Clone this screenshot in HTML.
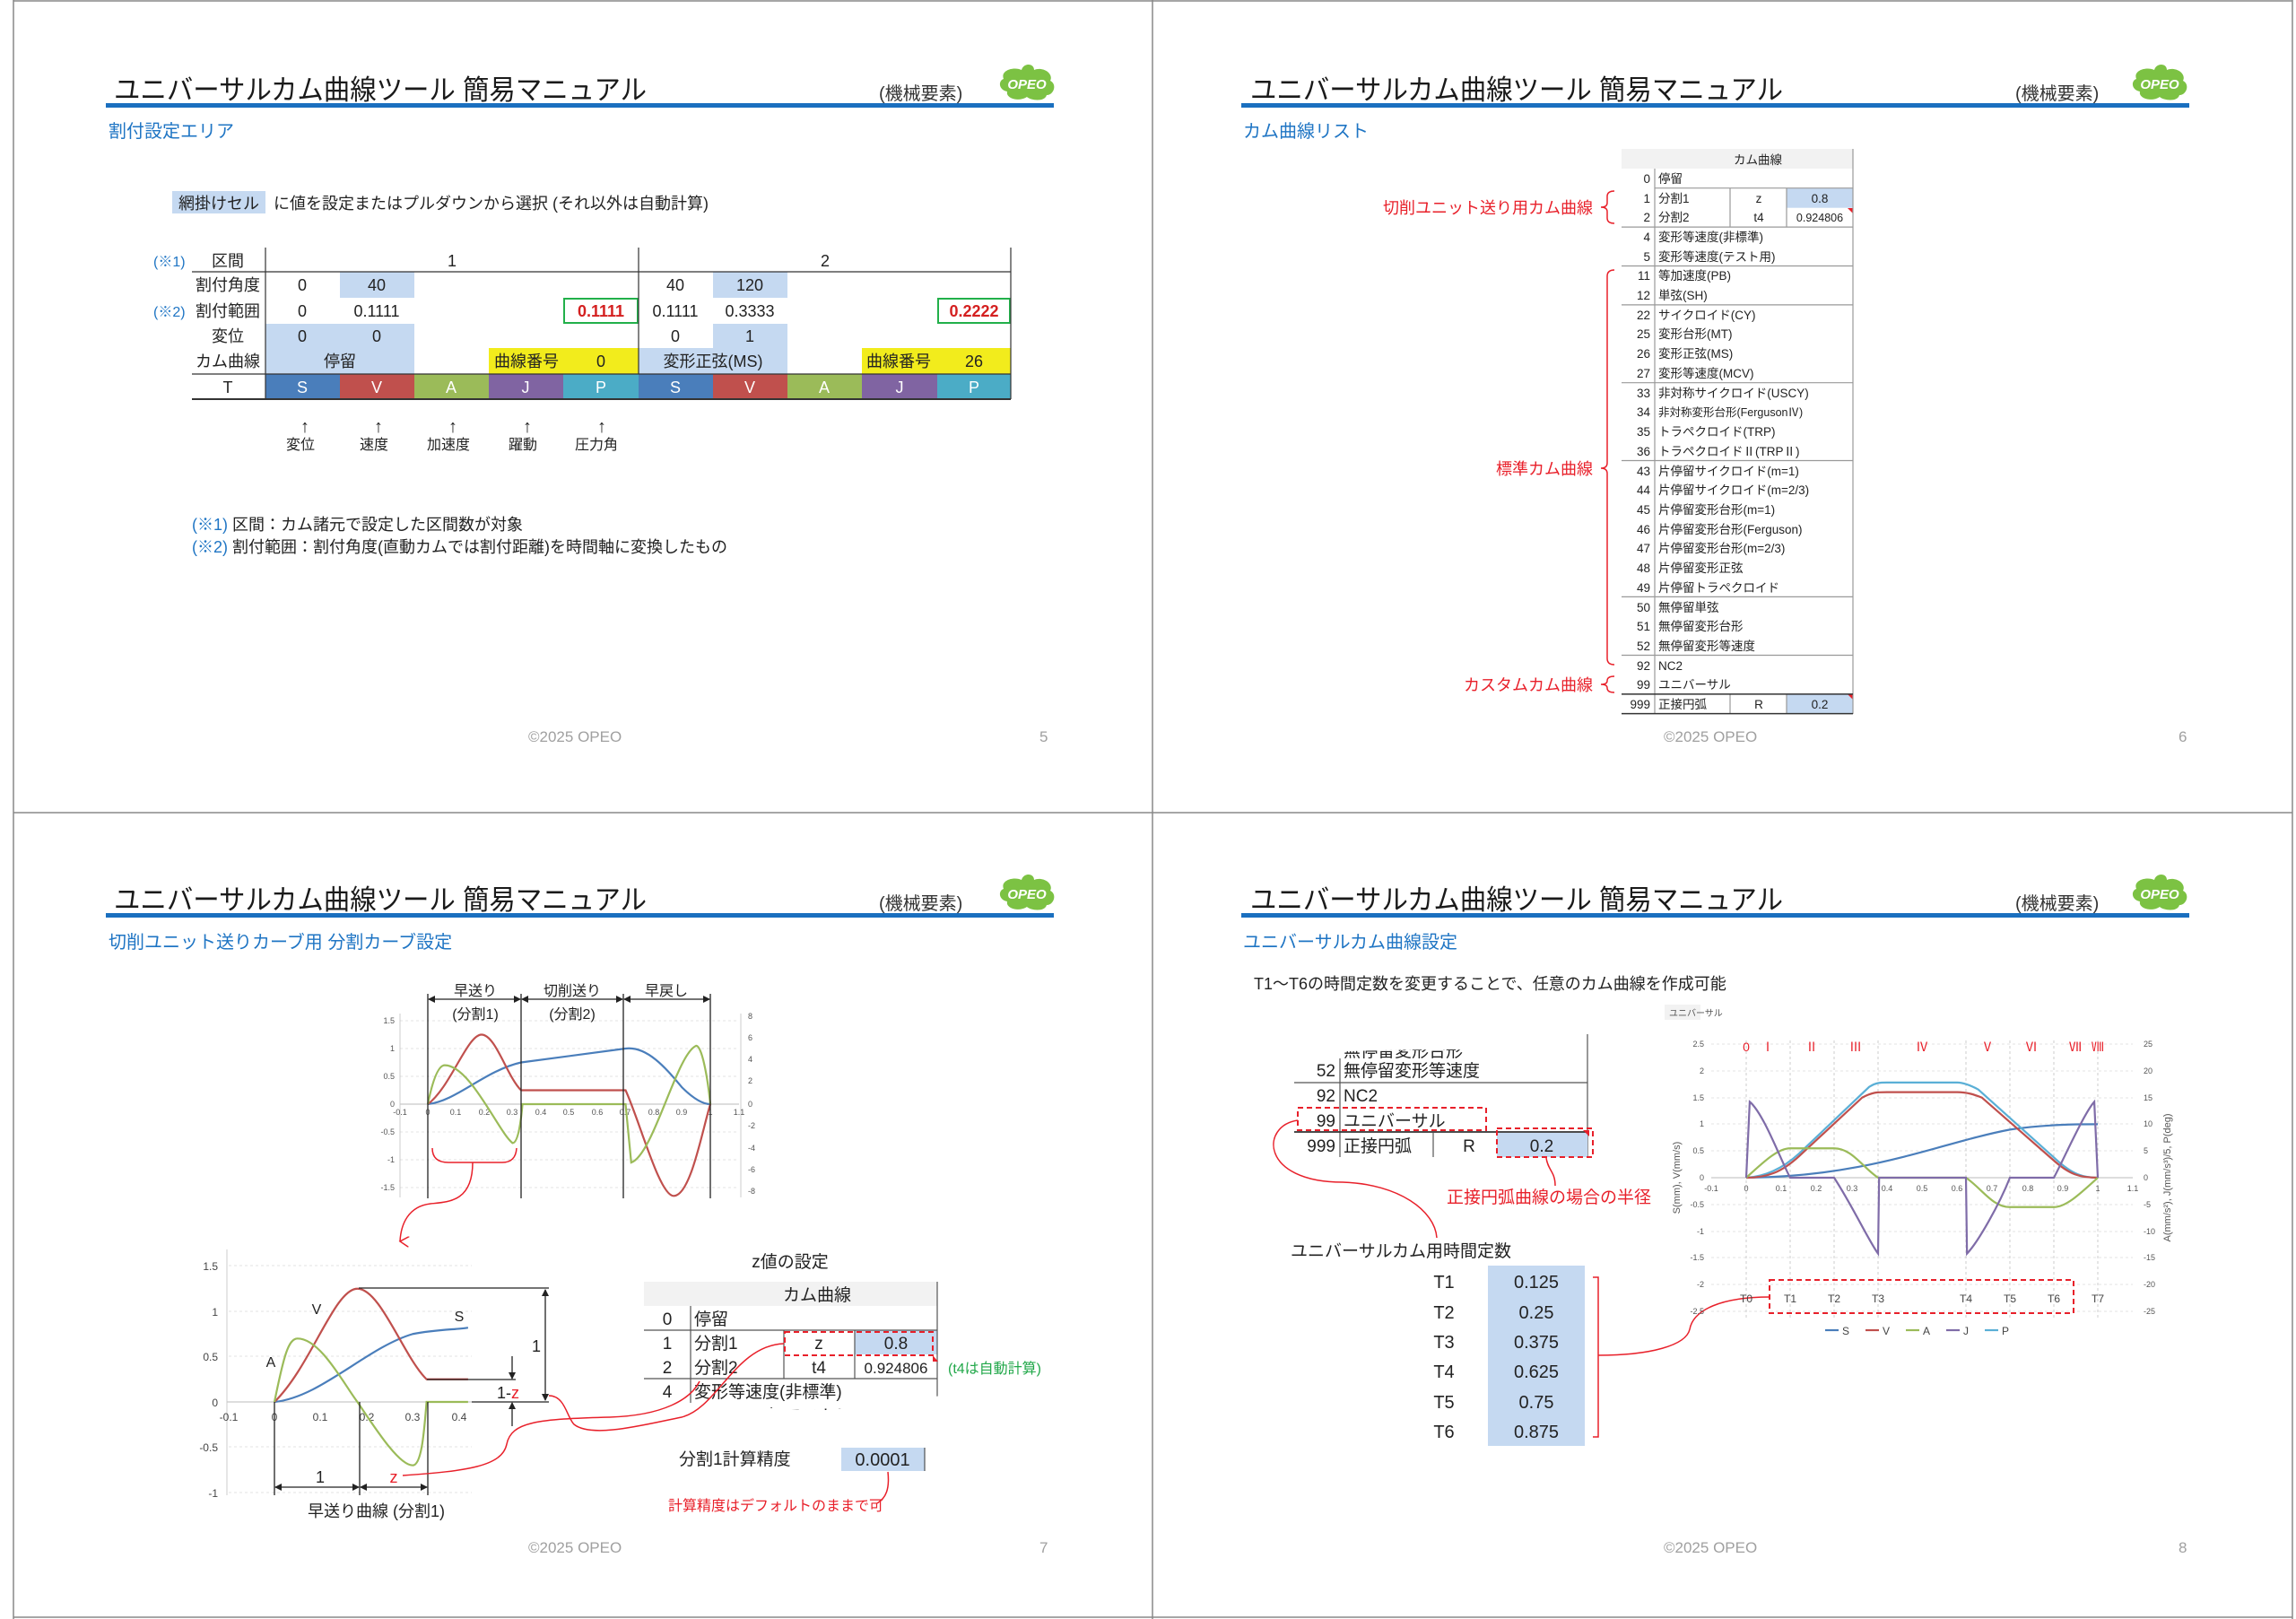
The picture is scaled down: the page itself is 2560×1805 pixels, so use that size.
<!DOCTYPE html>
<html><head><meta charset="utf-8"><style>
html,body{margin:0;padding:0;background:#fff}
svg{display:block}
text{font-family:"Liberation Sans","Noto Sans CJK JP",sans-serif}
.t{font-size:31px;fill:#1a1a1a}
.k{font-size:20px;fill:#333}
.sub{font-size:20px;fill:#1f75c4}
.ft{font-size:17px;fill:#a0a0a0}
.s18{font-size:18px;fill:#222}
.s16{font-size:16px;fill:#222}
.s14{font-size:14px;fill:#222}
.s13{font-size:13.5px;fill:#222}
.s19{font-size:19px;fill:#222}
.s20{font-size:20px;fill:#222}
.ax{font-size:9px;fill:#555}
.ax2{font-size:12px;fill:#444}
.red{fill:#e8202a}
.blu{fill:#1f75c4}
.m{text-anchor:middle}
.e{text-anchor:end}
.cv{fill:none;stroke-width:2.2;vector-effect:non-scaling-stroke}
.ln{stroke:#222;stroke-width:1.3;fill:none}
.gl{stroke:#e3e3e3;stroke-width:1;stroke-dasharray:3 3}
.rd{stroke:#e8202a;stroke-width:1.5;fill:none}
.rdd{stroke:#e8202a;stroke-width:2;fill:none;stroke-dasharray:6 4}
</style></head><body>
<svg width="2560" height="1805" viewBox="0 0 2560 1805" xmlns="http://www.w3.org/2000/svg">
<defs>
<marker id="ah" markerWidth="8" markerHeight="8" refX="7" refY="4" orient="auto-start-reverse" markerUnits="userSpaceOnUse"><path d="M0,0 L8,4 L0,8 z" fill="#222"/></marker>
<marker id="ar" markerWidth="12" markerHeight="12" refX="6" refY="10" orient="auto" markerUnits="userSpaceOnUse"><path d="M0,0 L6,10 L12,0" fill="none" stroke="#e8202a" stroke-width="1.5"/></marker>
<g id="logo"><path d="M-26,-6 C-30,-16 -14,-20 -6,-16 C-4,-24 8,-24 8,-16 C18,-20 30,-12 26,-4 C34,0 30,12 22,12 C20,20 4,18 0,14 C-8,20 -24,16 -22,8 C-32,6 -32,-4 -26,-6 z" fill="#7cc243"/><text x="0" y="5" class="m" style="font-size:15px;font-weight:bold;font-style:italic;fill:#fff">OPEO</text></g>
</defs>
<rect x="0" y="0" width="2560" height="1805" fill="#fff"/>
<g stroke="#888" stroke-width="1.5" fill="none">
<line x1="15" y1="0" x2="15" y2="1805"/><line x1="1285" y1="0" x2="1285" y2="1805"/>
<line x1="15" y1="906" x2="2556" y2="906"/><line x1="2556" y1="0" x2="2556" y2="1805"/>
<line x1="15" y1="1803" x2="2556" y2="1803"/><line x1="15" y1="1" x2="2556" y2="1"/>
</g>

<!-- ================= headers ================= -->
<g>
<text x="127" y="111" class="t" textLength="594" lengthAdjust="spacingAndGlyphs">ユニバーサルカム曲線ツール 簡易マニュアル</text>
<text x="980" y="111" class="k">(機械要素)</text>
<rect x="118" y="115" width="1057" height="5" fill="#1a6fbf"/>
<use href="#logo" x="1145" y="94"/>
<text x="589" y="827" class="ft">©2025 OPEO</text><text x="1159" y="827" class="ft">5</text>

<text x="1394" y="111" class="t" textLength="594" lengthAdjust="spacingAndGlyphs">ユニバーサルカム曲線ツール 簡易マニュアル</text>
<text x="2247" y="111" class="k">(機械要素)</text>
<rect x="1384" y="115" width="1057" height="5" fill="#1a6fbf"/>
<use href="#logo" x="2408" y="94"/>
<text x="1855" y="827" class="ft">©2025 OPEO</text><text x="2429" y="827" class="ft">6</text>

<text x="127" y="1014" class="t" textLength="594" lengthAdjust="spacingAndGlyphs">ユニバーサルカム曲線ツール 簡易マニュアル</text>
<text x="980" y="1014" class="k">(機械要素)</text>
<rect x="118" y="1018" width="1057" height="5" fill="#1a6fbf"/>
<use href="#logo" x="1145" y="997"/>
<text x="589" y="1731" class="ft">©2025 OPEO</text><text x="1159" y="1731" class="ft">7</text>

<text x="1394" y="1014" class="t" textLength="594" lengthAdjust="spacingAndGlyphs">ユニバーサルカム曲線ツール 簡易マニュアル</text>
<text x="2247" y="1014" class="k">(機械要素)</text>
<rect x="1384" y="1018" width="1057" height="5" fill="#1a6fbf"/>
<use href="#logo" x="2408" y="997"/>
<text x="1855" y="1731" class="ft">©2025 OPEO</text><text x="2429" y="1731" class="ft">8</text>
</g>

<!-- ================= slide 1 ================= -->
<g>
<text x="121" y="153" class="sub">割付設定エリア</text>
<rect x="192" y="213" width="104" height="25" fill="#c5d9f1"/>
<text x="199" y="233" class="s18">網掛けセル</text>
<text x="305" y="233" class="s18">に値を設定またはプルダウンから選択 (それ以外は自動計算)</text>
<rect x="379" y="303" width="83" height="29" fill="#c5d9f1"/>
<rect x="296" y="361" width="166" height="56" fill="#c5d9f1"/>
<rect x="795" y="303" width="83" height="29" fill="#c5d9f1"/>
<rect x="795" y="361" width="83" height="27" fill="#c5d9f1"/>
<rect x="712" y="388" width="166" height="29" fill="#c5d9f1"/>
<rect x="545" y="388" width="167" height="29" fill="#f2ec1c"/>
<rect x="961" y="388" width="166" height="29" fill="#f2ec1c"/>
<g>
<rect x="296" y="417" width="83" height="28" fill="#4a7ebb"/><rect x="379" y="417" width="83" height="28" fill="#c0504d"/>
<rect x="462" y="417" width="83" height="28" fill="#9bbb59"/><rect x="545" y="417" width="83" height="28" fill="#8064a2"/>
<rect x="628" y="417" width="84" height="28" fill="#4bacc6"/>
<rect x="712" y="417" width="83" height="28" fill="#4a7ebb"/><rect x="795" y="417" width="83" height="28" fill="#c0504d"/>
<rect x="878" y="417" width="83" height="28" fill="#9bbb59"/><rect x="961" y="417" width="84" height="28" fill="#8064a2"/>
<rect x="1045" y="417" width="82" height="28" fill="#4bacc6"/>
</g>
<rect x="629" y="333" width="82" height="27" fill="none" stroke="#22b04a" stroke-width="2"/>
<rect x="1046" y="333" width="80" height="27" fill="none" stroke="#22b04a" stroke-width="2"/>
<g stroke="#333" stroke-width="1.2">
<line x1="214" y1="303" x2="1127" y2="303"/><line x1="214" y1="417" x2="1127" y2="417"/>
<line x1="214" y1="445" x2="1127" y2="445" stroke-width="2"/>
<line x1="296" y1="276" x2="296" y2="445"/><line x1="712" y1="276" x2="712" y2="417"/>
<line x1="1127" y1="276" x2="1127" y2="445"/>
</g>
<text x="171" y="297" class="s16 blu">(※1)</text><text x="171" y="353" class="s16 blu">(※2)</text>
<text x="254" y="297" class="s18 m">区間</text>
<text x="290" y="324" class="s18 e">割付角度</text>
<text x="290" y="353" class="s18 e">割付範囲</text>
<text x="254" y="381" class="s18 m">変位</text>
<text x="290" y="409" class="s18 e">カム曲線</text>
<text x="254" y="438" class="s18 m">T</text>
<text x="504" y="297" class="s18 m">1</text><text x="920" y="297" class="s18 m">2</text>
<text x="337" y="324" class="s18 m">0</text><text x="420" y="324" class="s18 m">40</text>
<text x="753" y="324" class="s18 m">40</text><text x="836" y="324" class="s18 m">120</text>
<text x="337" y="353" class="s18 m">0</text><text x="420" y="353" class="s18 m">0.1111</text>
<text x="670" y="353" class="s18 m" style="fill:#d42020;font-weight:bold">0.1111</text>
<text x="753" y="353" class="s18 m">0.1111</text><text x="836" y="353" class="s18 m">0.3333</text>
<text x="1086" y="353" class="s18 m" style="fill:#d42020;font-weight:bold">0.2222</text>
<text x="337" y="381" class="s18 m">0</text><text x="420" y="381" class="s18 m">0</text>
<text x="753" y="381" class="s18 m">0</text><text x="836" y="381" class="s18 m">1</text>
<text x="379" y="409" class="s18 m">停留</text>
<text x="551" y="409" class="s18">曲線番号</text><text x="670" y="409" class="s18 m">0</text>
<text x="795" y="409" class="s18 m">変形正弦(MS)</text>
<text x="966" y="409" class="s18">曲線番号</text><text x="1086" y="409" class="s18 m">26</text>
<g>
<text x="337" y="438" class="s18 m" style="fill:#fff">S</text><text x="420" y="438" class="s18 m" style="fill:#fff">V</text>
<text x="503" y="438" class="s18 m" style="fill:#fff">A</text><text x="586" y="438" class="s18 m" style="fill:#fff">J</text>
<text x="670" y="438" class="s18 m" style="fill:#fff">P</text>
<text x="753" y="438" class="s18 m" style="fill:#fff">S</text><text x="836" y="438" class="s18 m" style="fill:#fff">V</text>
<text x="919" y="438" class="s18 m" style="fill:#fff">A</text><text x="1003" y="438" class="s18 m" style="fill:#fff">J</text>
<text x="1086" y="438" class="s18 m" style="fill:#fff">P</text>
</g>
<g>
<text x="340" y="482" class="s20 m">↑</text><text x="422" y="482" class="s20 m">↑</text><text x="505" y="482" class="s20 m">↑</text><text x="588" y="482" class="s20 m">↑</text><text x="671" y="482" class="s20 m">↑</text>
<text x="335" y="501" class="s16 m">変位</text><text x="417" y="501" class="s16 m">速度</text><text x="500" y="501" class="s16 m">加速度</text><text x="583" y="501" class="s16 m">躍動</text><text x="665" y="501" class="s16 m">圧力角</text>
</g>
<text x="214" y="591" class="s18"><tspan class="blu">(※1)</tspan> 区間：カム諸元で設定した区間数が対象</text>
<text x="214" y="616" class="s18"><tspan class="blu">(※2)</tspan> 割付範囲：割付角度(直動カムでは割付距離)を時間軸に変換したもの</text>
</g>

<!-- ================= slide 2 ================= -->
<g>
<text x="1386" y="153" class="sub">カム曲線リスト</text>
<rect x="1808" y="166" width="258" height="22" fill="#f2f2f2"/>
<text x="1960" y="183" class="s13 m">カム曲線</text>
<rect x="1992" y="210" width="74" height="21.7" fill="#c5d9f1"/>
<rect x="1992" y="774" width="74" height="21.6" fill="#c5d9f1"/>
<path d="M2060,232 L2066,232 L2066,238 z" fill="#e8202a"/>
<path d="M2060,774 L2066,774 L2066,780 z" fill="#e8202a"/>
<g stroke="#999" stroke-width="1.2">
<line x1="1845" y1="188" x2="1845" y2="796"/><line x1="2066" y1="166" x2="2066" y2="796"/>
<line x1="1929" y1="210" x2="1929" y2="253"/><line x1="1992" y1="210" x2="1992" y2="253"/>
<line x1="1929" y1="774" x2="1929" y2="796"/><line x1="1992" y1="774" x2="1992" y2="796"/>
<line x1="1845" y1="209.7" x2="2066" y2="209.7"/>
<line x1="1808" y1="253.1" x2="2066" y2="253.1"/>
<line x1="1808" y1="296.5" x2="2066" y2="296.5"/>
<line x1="1808" y1="339.9" x2="2066" y2="339.9"/>
<line x1="1808" y1="426.7" x2="2066" y2="426.7"/>
<line x1="1808" y1="513.5" x2="2066" y2="513.5"/>
<line x1="1808" y1="665.4" x2="2066" y2="665.4"/>
<line x1="1808" y1="730.5" x2="2066" y2="730.5"/>
</g>
<line x1="1808" y1="773.9" x2="2066" y2="773.9" stroke="#333" stroke-width="1.5"/>
<line x1="1808" y1="795.6" x2="2066" y2="795.6" stroke="#333" stroke-width="1.5"/>
<g>
<text x="1840" y="204" class="s13 e">0</text><text x="1849" y="204" class="s13">停留</text>
<text x="1840" y="226" class="s13 e">1</text><text x="1849" y="226" class="s13">分割1</text><text x="1961" y="226" class="s13 m">z</text><text x="2029" y="226" class="s13 m">0.8</text>
<text x="1840" y="247" class="s13 e">2</text><text x="1849" y="247" class="s13">分割2</text><text x="1961" y="247" class="s13 m">t4</text><text x="2029" y="247" class="s13 m" style="font-size:12.5px">0.924806</text>
<text x="1840" y="269" class="s13 e">4</text><text x="1849" y="269" class="s13">変形等速度(非標準)</text>
<text x="1840" y="291" class="s13 e">5</text><text x="1849" y="291" class="s13">変形等速度(テスト用)</text>
<text x="1840" y="312" class="s13 e">11</text><text x="1849" y="312" class="s13">等加速度(PB)</text>
<text x="1840" y="334" class="s13 e">12</text><text x="1849" y="334" class="s13">単弦(SH)</text>
<text x="1840" y="356" class="s13 e">22</text><text x="1849" y="356" class="s13">サイクロイド(CY)</text>
<text x="1840" y="377" class="s13 e">25</text><text x="1849" y="377" class="s13">変形台形(MT)</text>
<text x="1840" y="399" class="s13 e">26</text><text x="1849" y="399" class="s13">変形正弦(MS)</text>
<text x="1840" y="421" class="s13 e">27</text><text x="1849" y="421" class="s13">変形等速度(MCV)</text>
<text x="1840" y="443" class="s13 e">33</text><text x="1849" y="443" class="s13">非対称サイクロイド(USCY)</text>
<text x="1840" y="464" class="s13 e">34</text><text x="1849" y="464" class="s13" style="font-size:12.5px">非対称変形台形(FergusonⅣ)</text>
<text x="1840" y="486" class="s13 e">35</text><text x="1849" y="486" class="s13">トラペクロイド(TRP)</text>
<text x="1840" y="508" class="s13 e">36</text><text x="1849" y="508" class="s13">トラペクロイドⅡ(TRPⅡ)</text>
<text x="1840" y="530" class="s13 e">43</text><text x="1849" y="530" class="s13">片停留サイクロイド(m=1)</text>
<text x="1840" y="551" class="s13 e">44</text><text x="1849" y="551" class="s13">片停留サイクロイド(m=2/3)</text>
<text x="1840" y="573" class="s13 e">45</text><text x="1849" y="573" class="s13">片停留変形台形(m=1)</text>
<text x="1840" y="595" class="s13 e">46</text><text x="1849" y="595" class="s13">片停留変形台形(Ferguson)</text>
<text x="1840" y="616" class="s13 e">47</text><text x="1849" y="616" class="s13">片停留変形台形(m=2/3)</text>
<text x="1840" y="638" class="s13 e">48</text><text x="1849" y="638" class="s13">片停留変形正弦</text>
<text x="1840" y="660" class="s13 e">49</text><text x="1849" y="660" class="s13">片停留トラペクロイド</text>
<text x="1840" y="682" class="s13 e">50</text><text x="1849" y="682" class="s13">無停留単弦</text>
<text x="1840" y="703" class="s13 e">51</text><text x="1849" y="703" class="s13">無停留変形台形</text>
<text x="1840" y="725" class="s13 e">52</text><text x="1849" y="725" class="s13">無停留変形等速度</text>
<text x="1840" y="747" class="s13 e">92</text><text x="1849" y="747" class="s13">NC2</text>
<text x="1840" y="768" class="s13 e">99</text><text x="1849" y="768" class="s13">ユニバーサル</text>
<text x="1840" y="790" class="s13 e">999</text><text x="1849" y="790" class="s13">正接円弧</text><text x="1961" y="790" class="s13 m">R</text><text x="2029" y="790" class="s13 m">0.2</text>
</g>
<text x="1776" y="238" class="s18 red e">切削ユニット送り用カム曲線</text>
<path d="M1800,213 Q1792,213 1792,219 L1792,226 Q1792,231 1785,231 Q1792,231 1792,236 L1792,243 Q1792,249 1800,249" class="rd"/>
<text x="1776" y="529" class="s18 red e">標準カム曲線</text>
<path d="M1800,301 Q1792,301 1792,308 L1792,516 Q1792,522 1785,522 Q1792,522 1792,528 L1792,734 Q1792,741 1800,741" class="rd"/>
<text x="1776" y="770" class="s18 red e">カスタムカム曲線</text>
<path d="M1800,754 Q1792,754 1792,759 Q1792,763 1785,763 Q1792,763 1792,767 Q1792,772 1800,772" class="rd"/>
</g>

<!-- ================= slide 3 ================= -->
<g>
<text x="121" y="1057" class="sub">切削ユニット送りカーブ用  分割カーブ設定</text>
<g>
<g class="gl"><line x1="446" y1="1138" x2="824" y2="1138"/><line x1="446" y1="1169" x2="824" y2="1169"/><line x1="446" y1="1200" x2="824" y2="1200"/><line x1="446" y1="1262" x2="824" y2="1262"/><line x1="446" y1="1293" x2="824" y2="1293"/><line x1="446" y1="1324" x2="824" y2="1324"/></g>
<line x1="446" y1="1231" x2="824" y2="1231" stroke="#bbb"/>
<line x1="446" y1="1130" x2="446" y2="1335" stroke="#ccc"/>
<line x1="826" y1="1130" x2="826" y2="1335" stroke="#ccc"/>
<g>
<text x="440" y="1141" class="ax e">1.5</text><text x="440" y="1172" class="ax e">1</text><text x="440" y="1203" class="ax e">0.5</text><text x="440" y="1234" class="ax e">0</text><text x="440" y="1265" class="ax e">-0.5</text><text x="440" y="1296" class="ax e">-1</text><text x="440" y="1327" class="ax e">-1.5</text>
<text x="834" y="1136" class="ax">8</text><text x="834" y="1160" class="ax">6</text><text x="834" y="1184" class="ax">4</text><text x="834" y="1208" class="ax">2</text><text x="834" y="1234" class="ax">0</text><text x="834" y="1258" class="ax">-2</text><text x="834" y="1283" class="ax">-4</text><text x="834" y="1307" class="ax">-6</text><text x="834" y="1331" class="ax">-8</text>
<text x="446" y="1243" class="ax m">-0.1</text><text x="477" y="1243" class="ax m">0</text><text x="508" y="1243" class="ax m">0.1</text><text x="540" y="1243" class="ax m">0.2</text><text x="571" y="1243" class="ax m">0.3</text><text x="603" y="1243" class="ax m">0.4</text><text x="634" y="1243" class="ax m">0.5</text><text x="666" y="1243" class="ax m">0.6</text><text x="697" y="1243" class="ax m">0.7</text><text x="729" y="1243" class="ax m">0.8</text><text x="760" y="1243" class="ax m">0.9</text><text x="792" y="1243" class="ax m">1</text><text x="824" y="1243" class="ax m">1.1</text>
</g>
<g transform="translate(477,1231) scale(315,-62)">
<path class="cv" stroke="#4a7ebb" d="M0,0 C0.1,0.05 0.2,0.6 0.33,0.75 L0.7,1.0 C0.78,1.05 0.85,0.6 0.9,0.3 C0.95,0.05 0.98,0 1,0"/>
<path class="cv" stroke="#c0504d" d="M0,0 C0.08,0.3 0.14,1.25 0.19,1.25 C0.24,1.25 0.28,0.5 0.33,0.25 L0.7,0.25 C0.75,-0.3 0.82,-1.65 0.87,-1.65 C0.93,-1.65 0.97,-0.5 1,0"/>
<path class="cv" stroke="#9bbb59" d="M0,0 C0.02,0.5 0.04,0.7 0.06,0.7 C0.15,0.7 0.25,-0.5 0.3,-0.7 C0.32,-0.7 0.33,-0.3 0.335,0 L0.7,0 L0.72,-1.05 C0.8,-0.9 0.88,0.9 0.95,1.05 C0.97,1.05 0.99,0.5 1,0"/>
</g>
<g class="ln"><line x1="477" y1="1108" x2="477" y2="1336"/><line x1="581" y1="1108" x2="581" y2="1336"/><line x1="695" y1="1108" x2="695" y2="1336"/><line x1="792" y1="1108" x2="792" y2="1336"/>
<line x1="478" y1="1114" x2="580" y2="1114" marker-start="url(#ah)" marker-end="url(#ah)"/>
<line x1="582" y1="1114" x2="694" y2="1114" marker-start="url(#ah)" marker-end="url(#ah)"/>
<line x1="696" y1="1114" x2="791" y2="1114" marker-start="url(#ah)" marker-end="url(#ah)"/></g>
<text x="530" y="1110" class="s16 m">早送り</text><text x="530" y="1136" class="s16 m">(分割1)</text>
<text x="638" y="1110" class="s16 m">切削送り</text><text x="638" y="1136" class="s16 m">(分割2)</text>
<text x="743" y="1110" class="s16 m">早戻し</text>
</g>
<path d="M482,1280 Q482,1296 500,1296 L560,1296 Q575,1296 576,1280" class="rd"/>
<path d="M527,1296 C527,1340 500,1340 480,1342 C455,1345 447,1365 446,1384" class="rd" marker-end="url(#ar)"/>
<g>
<g class="gl"><line x1="255" y1="1411" x2="526" y2="1411"/><line x1="255" y1="1462" x2="526" y2="1462"/><line x1="255" y1="1512" x2="526" y2="1512"/><line x1="255" y1="1613" x2="526" y2="1613"/><line x1="255" y1="1664" x2="526" y2="1664"/></g>
<line x1="253" y1="1563" x2="526" y2="1563" stroke="#bbb"/>
<line x1="253" y1="1393" x2="253" y2="1667" stroke="#ccc"/>
<text x="243" y="1416" class="ax2 e">1.5</text><text x="243" y="1467" class="ax2 e">1</text><text x="243" y="1517" class="ax2 e">0.5</text><text x="243" y="1568" class="ax2 e">0</text><text x="243" y="1618" class="ax2 e">-0.5</text><text x="243" y="1669" class="ax2 e">-1</text>
<text x="255" y="1584" class="ax2 m">-0.1</text><text x="306" y="1584" class="ax2 m">0</text><text x="357" y="1584" class="ax2 m">0.1</text><text x="409" y="1584" class="ax2 m">0.2</text><text x="460" y="1584" class="ax2 m">0.3</text><text x="512" y="1584" class="ax2 m">0.4</text>
<g transform="translate(306,1563) scale(514,-101)">
<path class="cv" stroke="#4a7ebb" d="M0,0 C0.1,0.05 0.2,0.6 0.3,0.75 C0.35,0.8 0.4,0.8 0.42,0.82"/>
<path class="cv" stroke="#c0504d" d="M0,0 C0.08,0.4 0.13,1.25 0.18,1.25 C0.23,1.25 0.28,0.5 0.33,0.25 L0.42,0.25"/>
<path class="cv" stroke="#9bbb59" d="M0,0 C0.02,0.5 0.03,0.7 0.05,0.7 C0.1,0.7 0.15,0.2 0.18,0 C0.22,-0.3 0.27,-0.7 0.3,-0.7 C0.32,-0.7 0.325,-0.3 0.33,0 L0.42,0"/>
</g>
<g class="ln">
<line x1="400" y1="1436" x2="612" y2="1436"/><line x1="476" y1="1538" x2="575" y2="1538"/><line x1="526" y1="1563" x2="612" y2="1563"/>
<line x1="608" y1="1438" x2="608" y2="1561" marker-start="url(#ah)" marker-end="url(#ah)"/>
<line x1="571" y1="1512" x2="571" y2="1537" marker-end="url(#ah)"/>
<line x1="571" y1="1590" x2="571" y2="1564" marker-end="url(#ah)"/>
<line x1="306" y1="1563" x2="306" y2="1667"/><line x1="401" y1="1563" x2="401" y2="1667"/><line x1="477" y1="1563" x2="477" y2="1667"/>
<line x1="307" y1="1658" x2="400" y2="1658" marker-start="url(#ah)" marker-end="url(#ah)"/>
<line x1="402" y1="1658" x2="476" y2="1658" marker-start="url(#ah)" marker-end="url(#ah)"/>
</g>
<text x="353" y="1465" class="s16 m">V</text><text x="512" y="1473" class="s16 m">S</text><text x="302" y="1524" class="s16 m">A</text>
<text x="598" y="1507" class="s18 m">1</text>
<text x="554" y="1559" class="s18">1-<tspan class="red">z</tspan></text>
<text x="357" y="1653" class="s18 m">1</text><text x="439" y="1653" class="s18 m red">z</text>
<text x="343" y="1691" class="s18">早送り曲線 (分割1)</text>
</g>
<text x="881" y="1413" class="s19 m">z値の設定</text>
<rect x="718" y="1429" width="327" height="27" fill="#f2f2f2"/>
<rect x="953" y="1483" width="92" height="27" fill="#c5d9f1"/>
<g stroke="#555" stroke-width="1.2">
<line x1="770" y1="1456" x2="770" y2="1564"/><line x1="874" y1="1483" x2="874" y2="1537"/><line x1="953" y1="1483" x2="953" y2="1537"/>
<line x1="718" y1="1483" x2="1045" y2="1483"/><line x1="718" y1="1537" x2="1045" y2="1537"/>
<line x1="1045" y1="1429" x2="1045" y2="1560"/>
</g>
<text x="911" y="1450" class="s19 m">カム曲線</text>
<text x="744" y="1477" class="s19 m">0</text><text x="774" y="1477" class="s19">停留</text>
<text x="744" y="1504" class="s19 m">1</text><text x="774" y="1504" class="s19">分割1</text><text x="913" y="1504" class="s19 m">z</text><text x="999" y="1504" class="s19 m">0.8</text>
<text x="744" y="1531" class="s19 m">2</text><text x="774" y="1531" class="s19">分割2</text><text x="913" y="1531" class="s19 m">t4</text><text x="999" y="1531" class="m" style="font-size:17px;fill:#222">0.924806</text>
<text x="744" y="1558" class="s19 m">4</text><text x="774" y="1558" class="s19">変形等速度(非標準)</text>
<text x="744" y="1585" class="s19 m">5</text><text x="774" y="1585" class="s19">変形等速度(テスト用)</text>
<path d="M700,1566 C820,1560 900,1582 1000,1566 L1050,1560 L1050,1600 L700,1600 z" fill="#fff"/>
<path d="M880,1578 L1050,1556 L1050,1600 L860,1600 z" fill="#fff"/>
<rect x="875" y="1485" width="165" height="26" class="rdd"/>
<path d="M1040,1511 L1046,1518 L1040,1518 z" fill="#e8202a"/>
<text x="1057" y="1531" class="s16" style="fill:#22a84a">(t4は自動計算)</text>
<path d="M612,1556 C630,1556 632,1580 640,1588 C660,1604 720,1588 760,1580 C800,1570 820,1500 874,1498" class="rd"/>
<path d="M449,1645 C520,1640 560,1635 565,1610 C570,1585 600,1582 680,1580 C740,1578 770,1560 780,1540" class="rd"/>
<text x="757" y="1633" class="s19">分割1計算精度</text>
<rect x="938" y="1614" width="93" height="26" fill="#c5d9f1"/>
<line x1="1031" y1="1614" x2="1031" y2="1640" stroke="#333"/>
<text x="984" y="1634" class="s20 m">0.0001</text>
<text x="745" y="1684" class="s16 red">計算精度はデフォルトのままで可</text>
<path d="M990,1641 C992,1660 988,1670 978,1676" class="rd"/>
</g>

<!-- ================= slide 4 ================= -->
<g>
<text x="1386" y="1057" class="sub">ユニバーサルカム曲線設定</text>
<text x="1398" y="1103" class="s18">T1〜T6の時間定数を変更することで、任意のカム曲線を作成可能</text>
<text x="1498" y="1178" class="s19">無停留変形台形</text>
<path d="M1440,1150 L1780,1150 L1780,1178 C1700,1168 1560,1168 1440,1175 z" fill="#fff"/>
<g stroke="#555" stroke-width="1.2">
<line x1="1494" y1="1180" x2="1494" y2="1290"/><line x1="1598" y1="1263" x2="1598" y2="1290"/>
<line x1="1443" y1="1207" x2="1770" y2="1207"/><line x1="1770" y1="1153" x2="1770" y2="1290"/>
</g>
<line x1="1443" y1="1262" x2="1770" y2="1262" stroke="#333" stroke-width="1.8"/>
<rect x="1669" y="1263" width="101" height="27" fill="#c5d9f1"/>
<text x="1489" y="1200" class="s19 e">52</text><text x="1498" y="1200" class="s19">無停留変形等速度</text>
<text x="1489" y="1228" class="s19 e">92</text><text x="1498" y="1228" class="s19">NC2</text>
<text x="1489" y="1256" class="s19 e">99</text><text x="1498" y="1256" class="s19">ユニバーサル</text>
<text x="1489" y="1284" class="s19 e">999</text><text x="1498" y="1284" class="s19">正接円弧</text>
<text x="1638" y="1284" class="s19 m">R</text><text x="1719" y="1284" class="s19 m">0.2</text>
<rect x="1447" y="1235" width="210" height="25" class="rdd"/>
<rect x="1669" y="1258" width="107" height="32" class="rdd"/>
<path d="M1765,1260 L1772,1260 L1772,1267 z" fill="#e8202a"/>
<text x="1613" y="1341" class="s19 red">正接円弧曲線の場合の半径</text>
<path d="M1724,1291 C1726,1305 1734,1306 1734,1322" class="rd"/>
<path d="M1447,1249 C1405,1255 1405,1318 1497,1318 C1560,1320 1600,1350 1602,1380" class="rd"/>
<text x="1439" y="1401" class="s19">ユニバーサルカム用時間定数</text>
<rect x="1659" y="1411" width="108" height="201" fill="#c5d9f1"/>
<g>
<text x="1610" y="1436" class="s20 m">T1</text><text x="1713" y="1436" class="s20 m">0.125</text>
<text x="1610" y="1470" class="s20 m">T2</text><text x="1713" y="1470" class="s20 m">0.25</text>
<text x="1610" y="1503" class="s20 m">T3</text><text x="1713" y="1503" class="s20 m">0.375</text>
<text x="1610" y="1536" class="s20 m">T4</text><text x="1713" y="1536" class="s20 m">0.625</text>
<text x="1610" y="1570" class="s20 m">T5</text><text x="1713" y="1570" class="s20 m">0.75</text>
<text x="1610" y="1603" class="s20 m">T6</text><text x="1713" y="1603" class="s20 m">0.875</text>
</g>
<path d="M1776,1424 L1782,1424 L1782,1602 L1776,1602" class="rd"/>
<path d="M1782,1511 C1840,1511 1880,1500 1884,1482 C1888,1460 1920,1446 1973,1446" class="rd"/>
<rect x="1856" y="1120" width="40" height="17" fill="#f2f2f2"/>
<text x="1861" y="1133" class="ax" style="font-size:10px">ユニバーサル</text>
<g class="gl">
<line x1="1908" y1="1164" x2="2378" y2="1164"/><line x1="1908" y1="1194" x2="2378" y2="1194"/><line x1="1908" y1="1224" x2="2378" y2="1224"/><line x1="1908" y1="1253" x2="2378" y2="1253"/><line x1="1908" y1="1283" x2="2378" y2="1283"/><line x1="1908" y1="1343" x2="2378" y2="1343"/><line x1="1908" y1="1373" x2="2378" y2="1373"/><line x1="1908" y1="1402" x2="2378" y2="1402"/><line x1="1908" y1="1432" x2="2378" y2="1432"/><line x1="1908" y1="1462" x2="2378" y2="1462"/>
</g>
<line x1="1908" y1="1313" x2="2378" y2="1313" stroke="#bbb"/>
<g stroke="#ccc" stroke-dasharray="3 3">
<line x1="1947" y1="1160" x2="1947" y2="1470"/><line x1="1996" y1="1160" x2="1996" y2="1470"/><line x1="2045" y1="1160" x2="2045" y2="1470"/><line x1="2094" y1="1160" x2="2094" y2="1470"/><line x1="2192" y1="1160" x2="2192" y2="1470"/><line x1="2241" y1="1160" x2="2241" y2="1470"/><line x1="2290" y1="1160" x2="2290" y2="1470"/><line x1="2339" y1="1160" x2="2339" y2="1470"/>
</g>
<g>
<text x="1900" y="1167" class="ax e">2.5</text><text x="1900" y="1197" class="ax e">2</text><text x="1900" y="1227" class="ax e">1.5</text><text x="1900" y="1256" class="ax e">1</text><text x="1900" y="1286" class="ax e">0.5</text><text x="1900" y="1316" class="ax e">0</text><text x="1900" y="1346" class="ax e">-0.5</text><text x="1900" y="1376" class="ax e">-1</text><text x="1900" y="1405" class="ax e">-1.5</text><text x="1900" y="1435" class="ax e">-2</text><text x="1900" y="1465" class="ax e">-2.5</text>
<text x="2390" y="1167" class="ax">25</text><text x="2390" y="1197" class="ax">20</text><text x="2390" y="1227" class="ax">15</text><text x="2390" y="1256" class="ax">10</text><text x="2390" y="1286" class="ax">5</text><text x="2390" y="1316" class="ax">0</text><text x="2390" y="1346" class="ax">-5</text><text x="2390" y="1376" class="ax">-10</text><text x="2390" y="1405" class="ax">-15</text><text x="2390" y="1435" class="ax">-20</text><text x="2390" y="1465" class="ax">-25</text>
<text x="1908" y="1328" class="ax m">-0.1</text><text x="1947" y="1328" class="ax m">0</text><text x="1986" y="1328" class="ax m">0.1</text><text x="2025" y="1328" class="ax m">0.2</text><text x="2065" y="1328" class="ax m">0.3</text><text x="2104" y="1328" class="ax m">0.4</text><text x="2143" y="1328" class="ax m">0.5</text><text x="2182" y="1328" class="ax m">0.6</text><text x="2221" y="1328" class="ax m">0.7</text><text x="2261" y="1328" class="ax m">0.8</text><text x="2300" y="1328" class="ax m">0.9</text><text x="2339" y="1328" class="ax m">1</text><text x="2378" y="1328" class="ax m">1.1</text>
</g>
<text transform="translate(1873,1313) rotate(-90)" class="ax m" style="font-size:11px">S(mm), V(mm/s)</text>
<text transform="translate(2420,1313) rotate(-90)" class="ax m" style="font-size:11px">A(mm/s²), J(mm/s³)/5, P(deg)</text>
<g>
<text x="1947" y="1172" class="m" style="font-size:14px;fill:#e8202a">0</text><text x="1971" y="1172" class="m" style="font-size:14px;fill:#e8202a">Ⅰ</text><text x="2020" y="1172" class="m" style="font-size:14px;fill:#e8202a">Ⅱ</text><text x="2069" y="1172" class="m" style="font-size:14px;fill:#e8202a">Ⅲ</text><text x="2143" y="1172" class="m" style="font-size:14px;fill:#e8202a">Ⅳ</text><text x="2216" y="1172" class="m" style="font-size:14px;fill:#e8202a">Ⅴ</text><text x="2265" y="1172" class="m" style="font-size:14px;fill:#e8202a">Ⅵ</text><text x="2314" y="1172" class="m" style="font-size:14px;fill:#e8202a">Ⅶ</text><text x="2339" y="1172" class="m" style="font-size:14px;fill:#e8202a">Ⅷ</text>
</g>
<g transform="translate(1947,1313) scale(392,-59.6)">
<path class="cv" stroke="#4a7ebb" d="M0,0 C0.35,0.02 0.55,0.65 0.75,0.9 C0.85,1 0.95,1 1,1"/>
<path class="cv" stroke="#5aafd6" d="M0,0 C0.05,0.02 0.1,0.15 0.15,0.45 L0.35,1.7 C0.37,1.78 0.38,1.78 0.4,1.78 L0.6,1.78 C0.62,1.78 0.64,1.72 0.66,1.65 L0.88,0.35 C0.93,0.05 0.96,0 1,0"/>
<path class="cv" stroke="#c0504d" d="M0,0 C0.06,0 0.1,0.1 0.15,0.4 L0.33,1.5 C0.36,1.6 0.37,1.6 0.4,1.6 L0.6,1.6 C0.63,1.6 0.65,1.55 0.67,1.5 L0.87,0.35 C0.92,0.05 0.95,0 1,0"/>
<path class="cv" stroke="#9bbb59" d="M0,0 C0.05,0.3 0.09,0.55 0.125,0.55 L0.25,0.55 C0.3,0.55 0.33,0.2 0.375,0 L0.625,0 C0.67,-0.2 0.7,-0.55 0.75,-0.55 L0.875,-0.55 C0.91,-0.55 0.95,-0.3 1,0"/>
<path class="cv" stroke="#7f6ca8" d="M0,0 L0.01,1.42 C0.05,1.2 0.1,0.3 0.125,0 L0.25,0 C0.3,-0.5 0.35,-1.2 0.375,-1.42 L0.378,0 L0.625,0 L0.628,-1.42 C0.66,-1.2 0.72,-0.5 0.75,0 L0.875,0 C0.9,0.3 0.96,1.2 0.99,1.42 L1,0"/>
</g>
<g>
<text x="1947" y="1452" class="ax2 m">T0</text><text x="1996" y="1452" class="ax2 m">T1</text><text x="2045" y="1452" class="ax2 m">T2</text><text x="2094" y="1452" class="ax2 m">T3</text><text x="2192" y="1452" class="ax2 m">T4</text><text x="2241" y="1452" class="ax2 m">T5</text><text x="2290" y="1452" class="ax2 m">T6</text><text x="2339" y="1452" class="ax2 m">T7</text>
</g>
<rect x="1973" y="1427" width="339" height="37" class="rdd"/>
<g stroke-width="2.2">
<line x1="2035" y1="1483" x2="2050" y2="1483" stroke="#4a7ebb"/><text x="2054" y="1488" class="ax2">S</text>
<line x1="2080" y1="1483" x2="2095" y2="1483" stroke="#c0504d"/><text x="2099" y="1488" class="ax2">V</text>
<line x1="2125" y1="1483" x2="2140" y2="1483" stroke="#9bbb59"/><text x="2144" y="1488" class="ax2">A</text>
<line x1="2170" y1="1483" x2="2185" y2="1483" stroke="#7f6ca8"/><text x="2189" y="1488" class="ax2">J</text>
<line x1="2213" y1="1483" x2="2228" y2="1483" stroke="#5aafd6"/><text x="2232" y="1488" class="ax2">P</text>
</g>
</g>
</svg>
</body></html>
